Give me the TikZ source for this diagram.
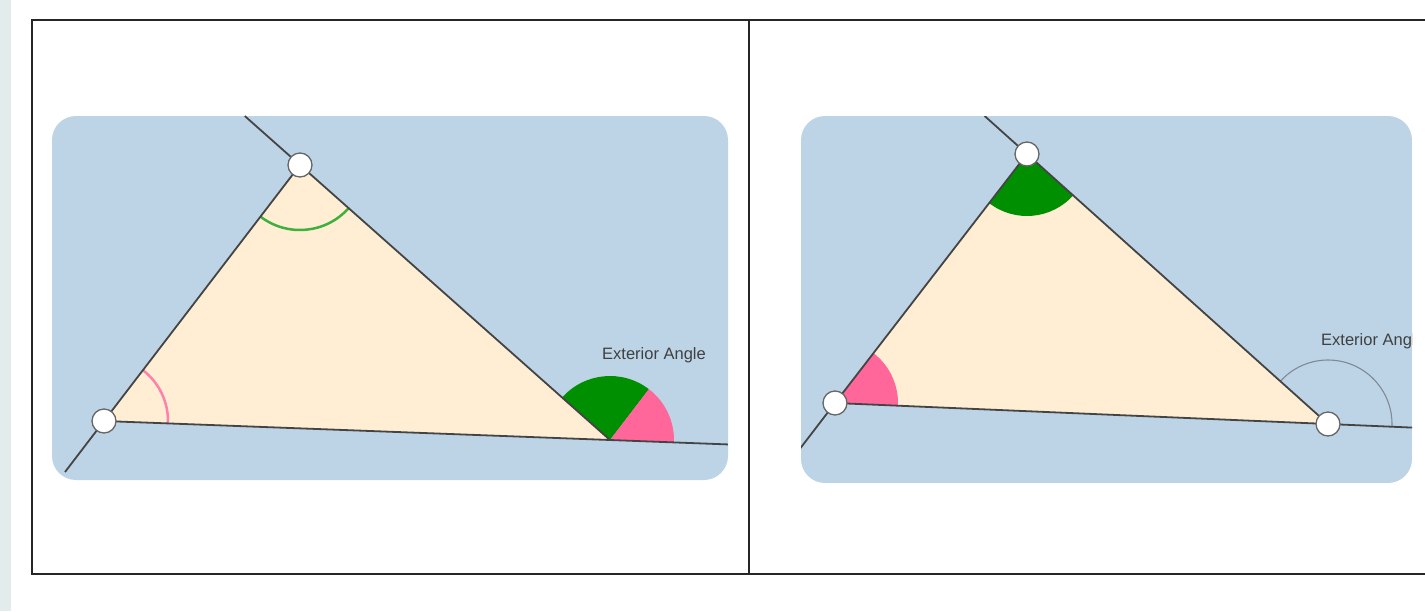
\documentclass[tikz,border=0pt]{standalone}
\usepackage{fontspec}
\setmainfont{Liberation Sans}
\usetikzlibrary{calc}
\definecolor{panelblue}{HTML}{BDD4E7}
\definecolor{trifill}{HTML}{FFEED4}
\definecolor{angGreen}{HTML}{008F00}
\definecolor{angPink}{HTML}{FF6699}
\definecolor{arcGreen}{HTML}{3DB03D}
\definecolor{arcPink}{HTML}{FF80AA}
\definecolor{lineGray}{HTML}{444444}
\definecolor{stripCol}{HTML}{E2ECEB}
\definecolor{extArc}{HTML}{7F8A94}
\newcommand\mysector[5]{%
  \fill[#1] let \p1=($(#3)-(#2)$), \p2=($(#4)-(#2)$),
    \n1={atan2(\y1,\x1)}, \n2={atan2(\y2,\x2)} in
    (#2) -- ($(#2)+(\n1:#5)$) arc[start angle=\n1, end angle=\n2, radius=#5] -- cycle;}
\newcommand\myarcmark[5]{%
  \draw[#1] let \p1=($(#3)-(#2)$), \p2=($(#4)-(#2)$),
    \n1={atan2(\y1,\x1)}, \n2={atan2(\y2,\x2)} in
    ($(#2)+(\n1:#5)$) arc[start angle=\n1, end angle=\n2, radius=#5];}
\begin{document}
\begin{tikzpicture}[x=1pt,y=-1pt,
  panel/.style={fill=panelblue, rounded corners=24pt},
  side/.style={draw=lineGray, line width=1.8pt},
  vertex/.style={circle, draw=gray!80!black, fill=white, line width=1.3pt, minimum size=24pt, inner sep=0pt},
  frame/.style={draw=black!85, line width=2pt},
  extlabel/.style={font=\fontsize{16.5}{19}\selectfont, text=black!75, inner sep=0pt, anchor=west}
]
\useasboundingbox (0,0) rectangle (1425,611);
\fill[white] (0,0) rectangle (1425,611);
\fill[stripCol] (0,0) rectangle (11,611);

% ---------- panel 1 ----------
\fill[panel] (52,116) rectangle (728,480);
\coordinate (A1) at (104,421);
\coordinate (B1) at (300,165);
\coordinate (C1) at (610,440);
\coordinate (Cp1) at ($(C1)+(B1)-(A1)$);
\coordinate (EA1) at (65,472);
\coordinate (EB1) at ($(C1)!1.178!(B1)$);
\coordinate (EC1) at ($(A1)!1.233!(C1)$);
\fill[trifill] (A1) -- (B1) -- (C1) -- cycle;
\mysector{angGreen}{C1}{Cp1}{B1}{64pt}
\mysector{angPink}{C1}{EC1}{Cp1}{64pt}
\myarcmark{arcPink, line width=2.5pt}{A1}{C1}{B1}{64pt}
\myarcmark{arcGreen, line width=2.5pt}{B1}{A1}{C1}{65pt}
\draw[side] (EA1) -- (A1);
\draw[side] (A1) -- (B1);
\draw[side] (A1) -- (EC1);
\draw[side] (C1) -- (EB1);
\node[vertex] (vA1) at (A1) {};
\node[vertex] (vB1) at (B1) {};
\node[extlabel] (t1) at (602,355) {Exterior Angle};

% ---------- panel 2 ----------
\begin{scope}
\path[clip, rounded corners=24pt] (801,116) rectangle (1412,483);
\fill[panelblue] (801,116) rectangle (1412,483);
\coordinate (A2) at (835,403);
\coordinate (B2) at (1027,154);
\coordinate (C2) at (1328,424);
\coordinate (EA2) at (799,450);
\coordinate (EB2) at ($(C2)!1.141!(B2)$);
\coordinate (EC2) at ($(A2)!1.2!(C2)$);
\fill[trifill] (A2) -- (B2) -- (C2) -- cycle;
\mysector{angPink}{A2}{C2}{B2}{63pt}
\mysector{angGreen}{B2}{A2}{C2}{62pt}
\myarcmark{extArc, line width=1.1pt}{C2}{EC2}{B2}{64pt}
\draw[side] (EA2) -- (A2);
\draw[side] (A2) -- (B2);
\draw[side] (A2) -- (EC2);
\draw[side] (C2) -- (EB2);
\node[vertex] (vA2) at (A2) {};
\node[vertex] (vB2) at (B2) {};
\node[vertex] (vC2) at (C2) {};
\node[extlabel] (t2) at (1321,341) {Exterior Angle};
\end{scope}

% ---------- frame ----------
\draw[frame] (1426,20) -- (32,20) -- (32,574) -- (1426,574);
\draw[frame] (749,20) -- (749,574);
\end{tikzpicture}
\end{document}
